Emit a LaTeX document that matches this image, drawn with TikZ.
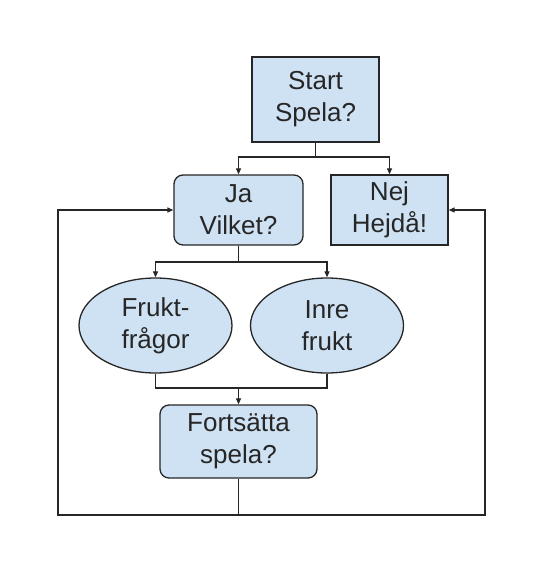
\documentclass[tikz,border=0pt]{standalone}
\usepackage{fontspec}
\setmainfont{Liberation Sans}
\usetikzlibrary{shapes.geometric,arrows.meta}
\definecolor{boxblue}{RGB}{207,226,243}
\tikzset{
	box/.style={draw=black!85, fill=boxblue, text=black!85, line width=1.3pt, align=center, inner sep=0pt, font=\fontsize{26}{32}\selectfont},
	rbox/.style={box, rounded corners=9pt},
	oval/.style={box, ellipse},
	ln/.style={line width=1.2pt, draw=black!85},
	arr/.style={ln, -{Triangle[length=6pt,width=5pt]}}
}

\begin{document}
\begin{tikzpicture}[x=1pt,y=-1pt]
				%%%%% START %%%%%
				\def\ysplit{157}
				\def\ybranch{262}
				\def\yjoin{388}
				\def\ybottom{515}
				\def\xleft{58}
				\def\xright{485}
				
				\useasboundingbox (0,0) rectangle (549,575);
				
				\node[box, minimum width=127pt, minimum height=85pt] (start) at (315.5,99.5) {Start\\Spela?};
				\node[rbox, minimum width=129pt, minimum height=70pt] (ja) at (238.5,210) {Ja\\Vilket?};
				\node[box, minimum width=117pt, minimum height=70pt] (nej) at (389.5,210) {Nej\\Hejdå!};
				\node[oval, minimum width=153pt, minimum height=95pt] (frukt) at (155.5,325.5) {Frukt-\\frågor};
				\node[oval, minimum width=153pt, minimum height=95pt] (inre) at (327,325.5) {Inre\\frukt};
				\node[rbox, minimum width=157pt, minimum height=73pt] (fort) at (238.5,441.5) {Fortsätta\\spela?};
				
				\coordinate (split) at (start.south |- 0,\ysplit);
				\coordinate (branch) at (ja.south |- 0,\ybranch);
				\coordinate (join) at (fort.north |- 0,\yjoin);
				\coordinate (bottom) at (fort.south |- 0,\ybottom);
				\coordinate (loopL) at (\xleft,\ybottom);
				\coordinate (loopR) at (\xright,\ybottom);
				
				\draw[ln] (start.south) -- (split);
				\draw[arr] (split) -| (ja.north);
				\draw[arr] (split) -| (nej.north);
				
				\draw[ln] (ja.south) -- (branch);
				\draw[arr] (branch) -| (frukt.north);
				\draw[arr] (branch) -| (inre.north);
				
				\draw[ln] (frukt.south) |- (join);
				\draw[ln] (inre.south) |- (join);
				\draw[arr] (join) -- (fort.north);
				
				\draw[ln] (fort.south) -- (bottom);
				\draw[arr] (bottom) -- (loopL) |- (ja.west);
				\draw[arr] (bottom) -- (loopR) |- (nej.east);
				%%%%% END %%%%%
\end{tikzpicture}
\end{document}
